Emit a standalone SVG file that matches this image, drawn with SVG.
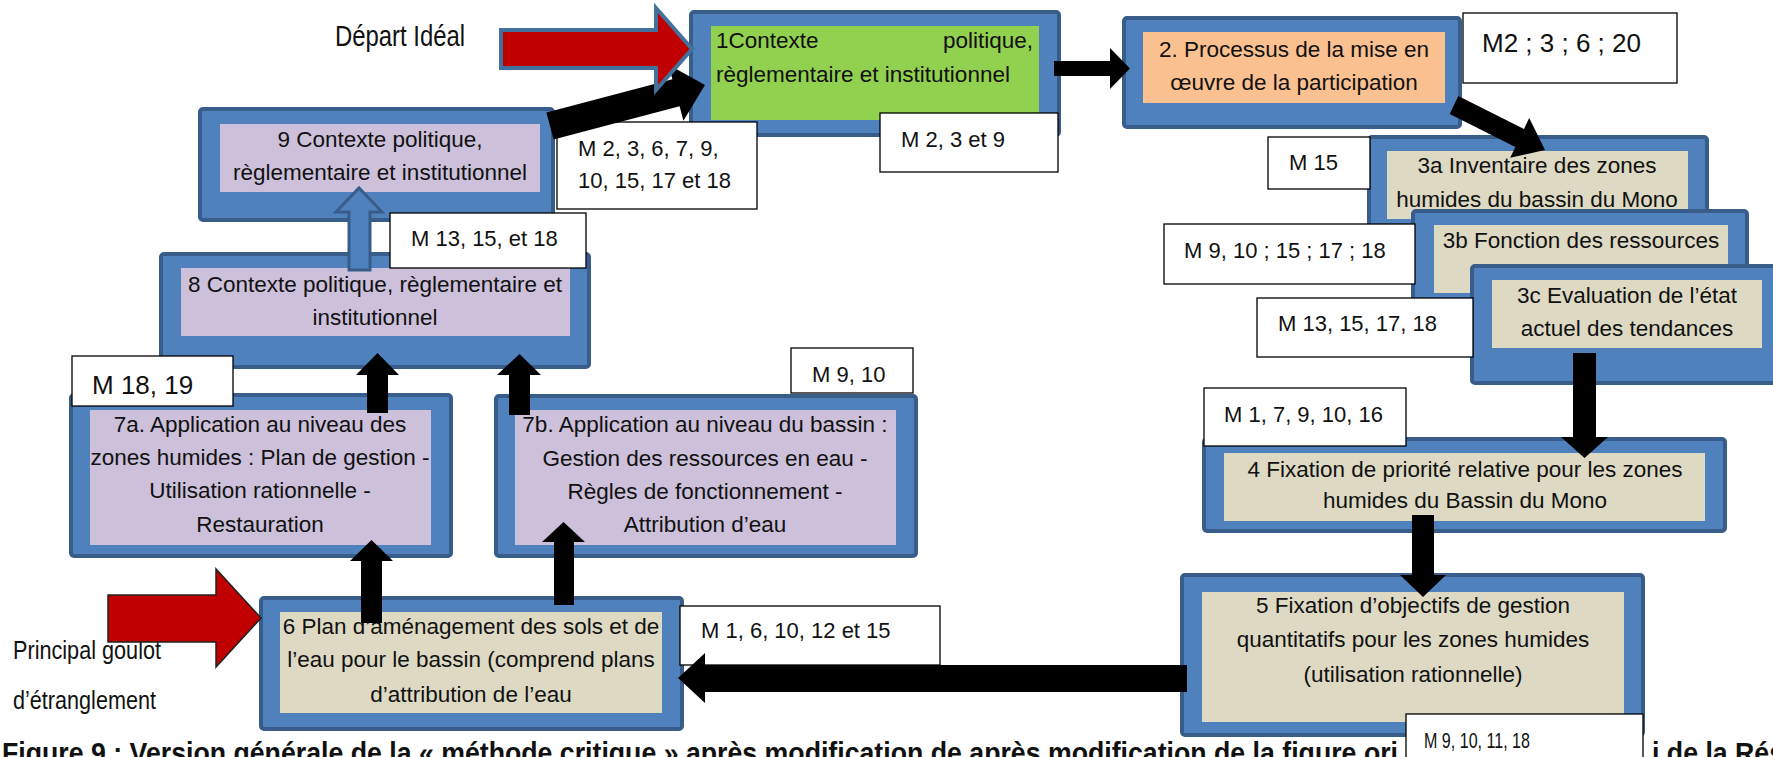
<svg xmlns="http://www.w3.org/2000/svg" width="1773" height="757" viewBox="0 0 1773 757">
<style>
.bg{fill:#ffffff}
.outer{fill:#4F81BD;stroke:#385D8A;stroke-width:4}
.in-lav{fill:#CCC0DA}
.in-green{fill:#92D050}
.in-orange{fill:#FAC090}
.in-tan{fill:#DDD9C3}
.lbl{fill:#ffffff;stroke:#000000;stroke-width:1.3}
.t{font-family:"Liberation Sans",Arial,sans-serif;font-size:22.5px;fill:#111111}
.m{font-family:"Liberation Sans",Arial,sans-serif;font-size:22px;fill:#111111}
.big{font-size:26px}
.c{text-anchor:middle}
.e{text-anchor:end}
.blk{fill:#000000}
.ann{font-family:"Liberation Sans",Arial,sans-serif;font-size:29px;fill:#111111}
.cap{font-family:"Liberation Sans",Arial,sans-serif;font-size:30px;font-weight:bold;fill:#111111}
</style>
<rect class="bg" x="0" y="0" width="1773" height="757"/>

<g id="node-9">
<rect class="outer" x="200" y="109" width="353" height="111" rx="3"/>
<rect class="in-lav" x="220" y="124" width="320" height="68"/>
<text class="t c" x="380" y="147">9 Contexte politique,</text>
<text class="t c" x="380" y="180">règlementaire et institutionnel</text>
</g>

<g id="node-8">
<rect class="outer" x="161" y="254" width="428" height="113" rx="3"/>
<rect class="in-lav" x="181" y="268" width="389" height="68"/>
<text class="t c" x="375" y="292">8 Contexte politique, règlementaire et</text>
<text class="t c" x="375" y="325">institutionnel</text>
</g>

<g id="node-1">
<rect class="outer" x="691" y="12" width="368" height="123" rx="3"/>
<rect class="in-green" x="711" y="26" width="328" height="94"/>
<text class="t" x="716" y="48">1Contexte</text>
<text class="t e" x="1033" y="48">politique,</text>
<text class="t" x="716" y="82">règlementaire et institutionnel</text>
</g>

<g id="node-2">
<rect class="outer" x="1124" y="18" width="336" height="109" rx="3"/>
<rect class="in-orange" x="1143" y="32" width="302" height="71"/>
<text class="t c" x="1294" y="57">2. Processus de la mise en</text>
<text class="t c" x="1294" y="90">œuvre de la participation</text>
</g>

<g id="node-3a">
<rect class="outer" x="1369" y="137" width="338" height="93" rx="3"/>
<rect class="in-tan" x="1387" y="151" width="301" height="68"/>
<text class="t c" x="1537" y="173">3a Inventaire des zones</text>
<text class="t c" x="1537" y="207">humides du bassin du Mono</text>
</g>

<g id="node-3b">
<rect class="outer" x="1413" y="211" width="334" height="91" rx="3"/>
<rect class="in-tan" x="1434" y="225" width="294" height="68"/>
<text class="t c" x="1581" y="248">3b Fonction des ressources</text>
</g>

<g id="node-3c">
<rect class="outer" x="1472" y="266" width="313" height="117" rx="3"/>
<rect class="in-tan" x="1492" y="280" width="270" height="68"/>
<text class="t c" x="1627" y="303">3c Evaluation de l’état</text>
<text class="t c" x="1627" y="336">actuel des tendances</text>
</g>

<g id="node-4">
<rect class="outer" x="1204" y="439" width="521" height="92" rx="3"/>
<rect class="in-tan" x="1224" y="453" width="481" height="68"/>
<text class="t c" x="1465" y="477">4 Fixation de priorité relative pour les zones</text>
<text class="t c" x="1465" y="508">humides du Bassin du Mono</text>
</g>

<g id="node-5">
<rect class="outer" x="1182" y="575" width="461" height="160" rx="3"/>
<rect class="in-tan" x="1202" y="592" width="422" height="130"/>
<text class="t c" x="1413" y="613">5 Fixation d’objectifs de gestion</text>
<text class="t c" x="1413" y="647">quantitatifs pour les zones humides</text>
<text class="t c" x="1413" y="682">(utilisation rationnelle)</text>
</g>

<g id="node-6">
<rect class="outer" x="261" y="598" width="421" height="131" rx="3"/>
<rect class="in-tan" x="280" y="612" width="382" height="101"/>
<text class="t c" x="471" y="634">6 Plan d’aménagement des sols et de</text>
<text class="t c" x="471" y="667">l’eau pour le bassin (comprend plans</text>
<text class="t c" x="471" y="702">d’attribution de l’eau</text>
</g>

<g id="node-7a">
<rect class="outer" x="71" y="395" width="380" height="161" rx="3"/>
<rect class="in-lav" x="90" y="410" width="341" height="135"/>
<text class="t c" x="260" y="432">7a. Application au niveau des</text>
<text class="t c" x="260" y="465">zones humides : Plan de gestion -</text>
<text class="t c" x="260" y="498">Utilisation rationnelle -</text>
<text class="t c" x="260" y="532">Restauration</text>
</g>

<g id="node-7b">
<rect class="outer" x="496" y="396" width="420" height="160" rx="3"/>
<rect class="in-lav" x="515" y="410" width="381" height="135"/>
<text class="t c" x="705" y="432">7b. Application au niveau du bassin :</text>
<text class="t c" x="705" y="466">Gestion des ressources en eau -</text>
<text class="t c" x="705" y="499">Règles de fonctionnement -</text>
<text class="t c" x="705" y="532">Attribution d’eau</text>
</g>

<g id="caption">
<text class="cap" x="2" y="763" textLength="1396" lengthAdjust="spacingAndGlyphs">Figure 9  : Version générale de la «  méthode critique  » après modification de après modification de la figure ori</text>
<text class="cap" x="1652" y="763" textLength="132" lengthAdjust="spacingAndGlyphs">i de la Rés</text>
</g>

<g id="annotations">
<text class="ann" x="335" y="46" textLength="130" lengthAdjust="spacingAndGlyphs">Départ Idéal</text>
<text class="ann" style="font-size:26px" x="13" y="659" textLength="148" lengthAdjust="spacingAndGlyphs">Principal goulot</text>
<text class="ann" style="font-size:26px" x="13" y="709" textLength="143" lengthAdjust="spacingAndGlyphs">d’étranglement</text>
</g>

<g id="label-m2-3-9"><rect class="lbl" x="880" y="113" width="178" height="59"/><text class="m" x="901" y="147">M 2, 3 et 9</text></g>
<g id="label-m2-3-6-20"><rect class="lbl" x="1463" y="13" width="214" height="70"/><text class="m big" x="1482" y="52">M2 ; 3 ; 6 ; 20</text></g>
<g id="label-m15"><rect class="lbl" x="1268" y="137" width="102" height="52"/><text class="m" x="1289" y="170">M 15</text></g>
<g id="label-m9-10-15-17-18"><rect class="lbl" x="1164" y="224" width="251" height="60"/><text class="m" x="1184" y="258">M 9, 10 ; 15 ; 17 ; 18</text></g>
<g id="label-m13-15-17-18"><rect class="lbl" x="1257" y="298" width="216" height="59"/><text class="m" x="1278" y="331">M 13, 15, 17, 18</text></g>
<g id="label-m1-7-9-10-16"><rect class="lbl" x="1204" y="388" width="202" height="58"/><text class="m" x="1224" y="422">M 1, 7, 9, 10, 16</text></g>
<g id="label-m9-10-11-18"><rect class="lbl" x="1406" y="714" width="237" height="50"/><text class="m" style="font-size:22px" x="1424" y="748" textLength="106" lengthAdjust="spacingAndGlyphs">M 9, 10, 11, 18</text></g>
<g id="label-m1-6-10-12-15"><rect class="lbl" x="680" y="606" width="260" height="59"/><text class="m" x="701" y="638">M 1, 6, 10, 12 et 15</text></g>
<g id="label-m9-10"><rect class="lbl" x="791" y="348" width="122" height="45"/><text class="m" x="812" y="382">M 9, 10</text></g>
<g id="label-m18-19"><rect class="lbl" x="72" y="356" width="161" height="50"/><text class="m big" x="92" y="394">M 18, 19</text></g>
<g id="label-m13-15-18"><rect class="lbl" x="390" y="213" width="196" height="55"/><text class="m" x="411" y="246">M 13, 15, et 18</text></g>
<g id="label-m2-3-6-7-9-10-15-17-18"><rect class="lbl" x="557" y="122" width="200" height="87"/><text class="m" x="578" y="156">M 2, 3, 6, 7, 9,</text><text class="m" x="578" y="188">10, 15, 17 et 18</text></g>

<g id="connectors">
<polygon class="blk" points="546.4,112.5 672.4,79.2 668.6,64.7 705,85 683.4,120.7 679.6,106.2 553.6,139.5"/>
<polygon class="blk" points="1054,61 1110,61 1110,48 1130,68.5 1110,89 1110,76 1054,76"/>
<polygon class="blk" points="1458.3,96 1524,128.9 1529.2,118.1 1545,150 1510.2,157.7 1515.4,146.9 1449.7,114"/>
<polygon class="blk" points="1573,353 1596,353 1596,437 1608,437 1584.5,458 1561,437 1573,437"/>
<polygon class="blk" points="1412,515 1434,515 1434,575 1446,575 1423,597 1400,575 1412,575"/>
<polygon class="blk" points="1187,665 705,665 705,653 678,678 705,703 705,692 1187,692"/>
<polygon class="blk" points="367,413 367,375 356,375 377.5,353 399,375 388,375 388,413"/>
<polygon class="blk" points="509,415 509,375 497,375 519.5,354 541,375 530,375 530,415"/>
<polygon class="blk" points="361,623 361,561 350,561 371.5,540 393,561 382,561 382,623"/>
<polygon class="blk" points="554,605 554,542 542,542 563.5,522 585,542 574,542 574,605"/>
<polygon points="349,270 349,212 336,212 359,188 382,212 370,212 370,270" fill="#4F81BD" stroke="#385D8A" stroke-width="3" stroke-linejoin="miter"/>
<polygon points="501,30 656,30 656,8 692,49 656,90 656,68 501,68" fill="#C00000" stroke="#41719C" stroke-width="4"/>
<polygon points="108,595 216,595 216,569 261,618 216,667 216,642 108,642" fill="#C00000" stroke="#222222" stroke-width="1.5"/>
</g>
</svg>
